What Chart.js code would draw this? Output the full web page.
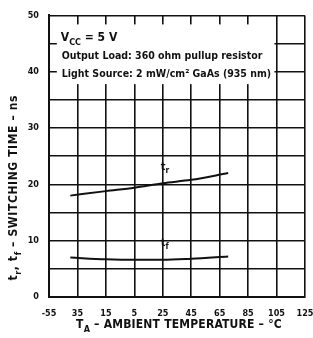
<!DOCTYPE html>
<html>
<head>
<meta charset="utf-8">
<script src="https://cdn.jsdelivr.net/npm/chart.js@4.4.0/dist/chart.umd.min.js"></script>
<style>
  html, body { margin: 0; padding: 0; background: #fff; overflow: hidden; }
  #wrap { width: 330px; height: 338px; }
</style>
</head>
<body>
<div id="wrap"><canvas id="switchChart" width="330" height="338"></canvas></div>
<script>
// values (temperature in deg C, time in ns)
const riseTemps = [-40, -15, 5, 25, 45, 71];
const riseTime = [18.0, 18.8, 19.4, 20.2, 20.8, 22.0];
const fallTemps = [-40, -15, 5, 25, 45, 71];
const fallTime = [7.0, 6.7, 6.6, 6.6, 6.8, 7.2];

// tick labels as printed on the sheet
const xTickLabels = ['-55', '35', '15', '5', '25', '45', '65', '85', '105', '125'];
const yTickLabels = ['0', '10', '20', '30', '40', '50'];

const ink = '#111';
const FONT = '"DejaVu Sans Condensed", "DejaVu Sans", sans-serif';

// draws a run of text pieces, some of them subscript
function drawParts(ctx, parts, x, y, size, weight) {
  let cx = x;
  parts.forEach(p => {
    const sub = p[1];
    ctx.font = weight + ' ' + (sub ? size * 0.75 : size) + 'px ' + FONT;
    ctx.fillText(p[0], cx, sub ? y + size * 0.3 : y);
    cx += ctx.measureText(p[0]).width;
  });
}
function partsWidth(ctx, parts, size, weight) {
  let w = 0;
  parts.forEach(p => {
    ctx.font = weight + ' ' + (p[1] ? size * 0.75 : size) + 'px ' + FONT;
    w += ctx.measureText(p[0]).width;
  });
  return w;
}

const notePlugin = {
  id: 'note',
  beforeDatasetsDraw(chart) {
    const { ctx, scales: { x, y } } = chart;
    const left = x.getPixelForValue(-49.5);
    const right = x.getPixelForValue(103.5);
    const top = y.getPixelForValue(48.4);
    const bottom = y.getPixelForValue(37.8);
    ctx.save();
    ctx.fillStyle = '#fff';
    ctx.fillRect(left, top, right - left, bottom - top);
    ctx.fillStyle = ink;
    ctx.textBaseline = 'alphabetic';
    ctx.textAlign = 'left';
    drawParts(ctx, [['V', false], ['CC', true], [' = 5 V', false]], left + 4, top + 17, 12, 'bold');
    ctx.font = '600 10.5px ' + FONT;
    ctx.fillText('Output Load: 360 ohm pullup resistor', left + 5, top + 35);
    ctx.fillText('Light Source: 2 mW/cm\u00b2 GaAs (935 nm)', left + 5, top + 53);
    ctx.restore();
  },
  afterDraw(chart) {
    const { ctx, scales: { x, y } } = chart;
    ctx.save();
    ctx.fillStyle = ink;
    ctx.textBaseline = 'alphabetic';
    ctx.textAlign = 'left';

    // curve labels
    drawParts(ctx, [['t', false], ['r', true]], x.getPixelForValue(23.5), y.getPixelForValue(22.6), 11, 'bold');
    drawParts(ctx, [['t', false], ['f', true]], x.getPixelForValue(23.5), y.getPixelForValue(9.1), 11, 'bold');

    // x axis title
    ctx.letterSpacing = '0.2px';
    const xParts = [['T', false], ['A', true], [' \u2013 AMBIENT TEMPERATURE \u2013 \u00b0C', false]];
    const xw = partsWidth(ctx, xParts, 12, 'bold');
    drawParts(ctx, xParts, (x.left + x.right) / 2 + 2 - xw / 2, 328, 12, 'bold');

    // y axis title, rotated
    ctx.letterSpacing = '0.6px';
    const yParts = [['t', false], ['r', true], [', t', false], ['f', true], [' \u2013 SWITCHING TIME \u2013 ns', false]];
    const yw = partsWidth(ctx, yParts, 12, 'bold');
    ctx.translate(17, y.getPixelForValue(19.4));
    ctx.rotate(-Math.PI / 2);
    drawParts(ctx, yParts, -yw / 2, 0, 12, 'bold');
    ctx.restore();
  }
};

function makeChart() {
  const ctx = document.getElementById('switchChart').getContext('2d');
  new Chart(ctx, {
    type: 'line',
    data: {
      datasets: [
        {
          label: 'tr',
          data: riseTemps.map((t, i) => ({ x: t, y: riseTime[i] })),
          borderColor: ink,
          borderWidth: 2,
          pointRadius: 0,
          cubicInterpolationMode: 'monotone'
        },
        {
          label: 'tf',
          data: fallTemps.map((t, i) => ({ x: t, y: fallTime[i] })),
          borderColor: ink,
          borderWidth: 2,
          pointRadius: 0,
          cubicInterpolationMode: 'monotone'
        }
      ]
    },
    options: {
      responsive: false,
      animation: false,
      layout: { padding: { top: 11, right: 25, left: 0, bottom: 0 } },
      plugins: { legend: { display: false }, tooltip: { enabled: false } },
      scales: {
        x: {
          type: 'linear',
          min: -55,
          max: 125,
          afterBuildTicks: s => { s.ticks = xTickLabels.map((l, i) => ({ value: -55 + 20 * i })); },
          afterFit: s => { s.height = 41; },
          grid: { color: ink, lineWidth: 1.6, drawTicks: false },
          border: { color: ink, width: 2 },
          ticks: {
            padding: 11,
            color: ink,
            maxRotation: 0,
            autoSkip: false,
            font: { family: FONT, size: 9, weight: 'bold' },
            callback: (v, i) => xTickLabels[i]
          }
        },
        y: {
          min: 0,
          max: 50,
          afterBuildTicks: s => { s.ticks = [0, 5, 10, 15, 20, 25, 30, 35, 40, 45, 50].map(v => ({ value: v })); },
          afterFit: s => { s.width = 49; },
          grid: { color: ink, lineWidth: 1.6, drawTicks: false },
          border: { color: ink, width: 2 },
          ticks: {
            padding: 10,
            color: ink,
            autoSkip: false,
            font: { family: FONT, size: 9, weight: 'bold' },
            callback: (v, i) => (i % 2 === 0 ? yTickLabels[i / 2] : '')
          }
        }
      }
    },
    plugins: [notePlugin]
  });
}

window.onload = () => {
  makeChart();
};
</script>
</body>
</html>
